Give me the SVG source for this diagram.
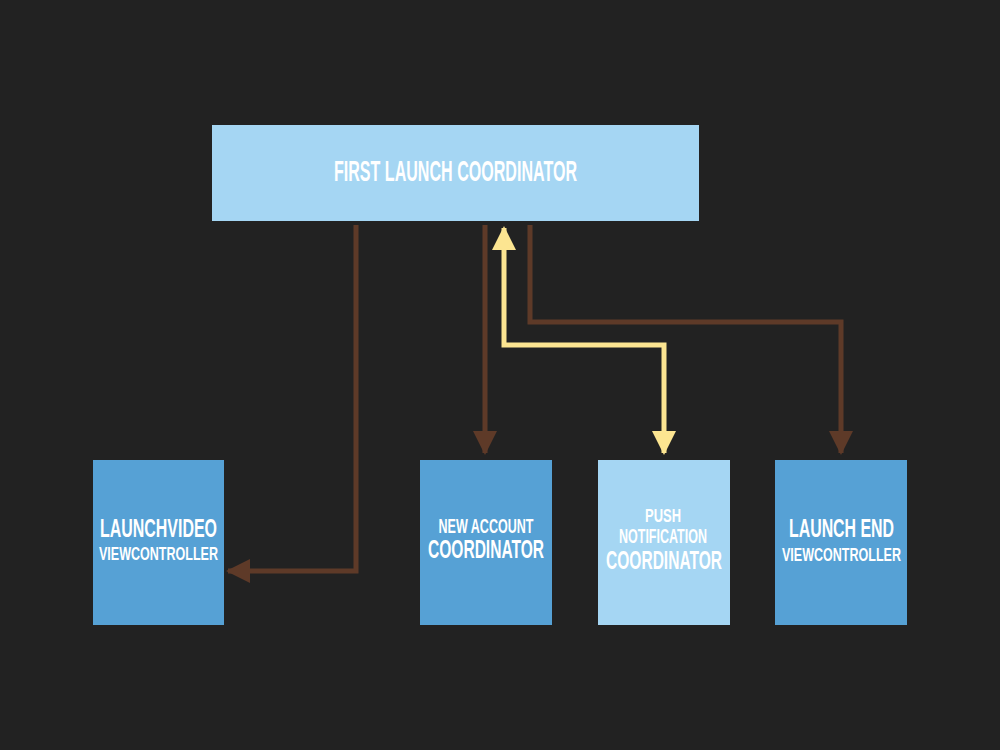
<svg xmlns="http://www.w3.org/2000/svg" width="1000" height="750" viewBox="0 0 1000 750">
<defs>
<style>
.t{font-family:"Liberation Sans Narrow","Liberation Sans",Arial,sans-serif;font-weight:bold;fill:#ffffff;text-anchor:middle}
.light{fill:#a5d6f3}
.dark{fill:#56a1d5}
.br{fill:none;stroke:#5e3a28;stroke-width:5}
.yl{fill:none;stroke:#fce591;stroke-width:5}
</style>
<marker id="ab" markerUnits="userSpaceOnUse" markerWidth="24" markerHeight="24" viewBox="0 0 24 24" refX="22" refY="12" orient="auto"><path d="M0,0 L24,12 L0,24 Z" fill="#5e3a28"/></marker>
<marker id="ay" markerUnits="userSpaceOnUse" markerWidth="24" markerHeight="24" viewBox="0 0 24 24" refX="22" refY="12" orient="auto"><path d="M0,0 L24,12 L0,24 Z" fill="#fce591"/></marker>
<marker id="ays" markerUnits="userSpaceOnUse" markerWidth="24" markerHeight="24" viewBox="0 0 24 24" refX="22" refY="12" orient="auto-start-reverse"><path d="M0,0 L24,12 L0,24 Z" fill="#fce591"/></marker>
</defs>
<rect width="1000" height="750" fill="#222222"/>
<g id="connectors">
<path class="br" d="M356,225 V571 H228" marker-end="url(#ab)"/>
<path class="br" d="M485,225 V453" marker-end="url(#ab)"/>
<path class="br" d="M530,225 V322 H841 V453" marker-end="url(#ab)"/>
<path class="yl" d="M504,228 V345 H664 V453" marker-start="url(#ays)" marker-end="url(#ay)"/>
</g>
<g id="first-launch">
<rect class="light" x="212" y="125" width="487" height="96"/>
<text class="t" x="455.5" y="181" font-size="30" textLength="243" lengthAdjust="spacingAndGlyphs">FIRST LAUNCH COORDINATOR</text>
</g>
<g id="launchvideo">
<rect class="dark" x="93" y="460" width="131" height="165"/>
<text class="t" x="158.5" y="537" font-size="26" textLength="117" lengthAdjust="spacingAndGlyphs">LAUNCHVIDEO</text>
<text class="t" x="158.5" y="560" font-size="18" textLength="119" lengthAdjust="spacingAndGlyphs">VIEWCONTROLLER</text>
</g>
<g id="new-account">
<rect class="dark" x="420" y="460" width="132" height="165"/>
<text class="t" x="486" y="533" font-size="21" textLength="95" lengthAdjust="spacingAndGlyphs">NEW ACCOUNT</text>
<text class="t" x="486" y="558" font-size="25" textLength="116" lengthAdjust="spacingAndGlyphs">COORDINATOR</text>
</g>
<g id="push-notification">
<rect class="light" x="598" y="460" width="132" height="165"/>
<text class="t" x="663" y="522" font-size="19" textLength="36" lengthAdjust="spacingAndGlyphs">PUSH</text>
<text class="t" x="663" y="543" font-size="20" textLength="88" lengthAdjust="spacingAndGlyphs">NOTIFICATION</text>
<text class="t" x="664" y="569" font-size="26" textLength="116" lengthAdjust="spacingAndGlyphs">COORDINATOR</text>
</g>
<g id="launch-end">
<rect class="dark" x="775" y="460" width="132" height="165"/>
<text class="t" x="841.5" y="537" font-size="26" textLength="105" lengthAdjust="spacingAndGlyphs">LAUNCH END</text>
<text class="t" x="841.5" y="561" font-size="19" textLength="119" lengthAdjust="spacingAndGlyphs">VIEWCONTROLLER</text>
</g>
</svg>
